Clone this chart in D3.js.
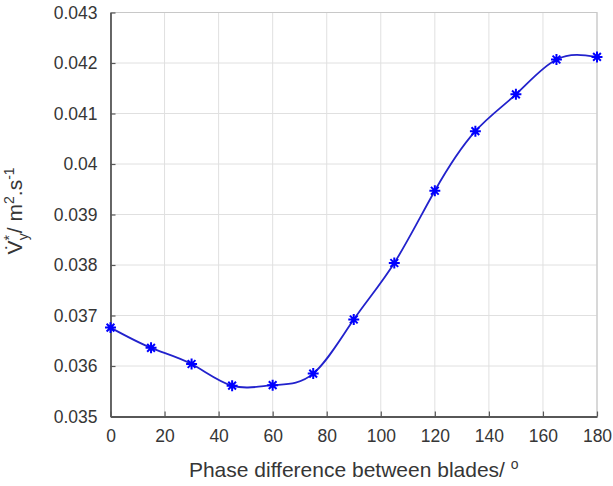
<!DOCTYPE html>
<html>
<head>
<meta charset="utf-8">
<script src="https://cdn.jsdelivr.net/npm/d3@7"></script>
<style>
  html, body { margin: 0; padding: 0; background: #fff; }
  svg { display: block; font-family: "Liberation Sans", Arial, Helvetica, sans-serif; }
</style>
</head>
<body>
<svg id="chart" width="613" height="486"></svg>
<script>
// Phase difference between the blades (degrees)
const phase = [0, 15, 30, 45, 60, 75, 90, 105, 120, 135, 150, 165, 180];
// Flow rate V*y (m^2/s)
const flow = [0.03676, 0.03636, 0.03604, 0.03561, 0.03562, 0.03585, 0.03692,
              0.03804, 0.03947, 0.04065, 0.04138, 0.04207, 0.04212];
const xTicks = [0, 20, 40, 60, 80, 100, 120, 140, 160, 180];
const yTicks = [0.035, 0.036, 0.037, 0.038, 0.039, 0.04, 0.041, 0.042, 0.043];
const xTitle = "Phase difference between blades/ ";

const plotL = 110.5, plotR = 597, plotT = 12.5, plotB = 416.5;
const svg = d3.select("#chart");

const x = d3.scaleLinear().domain([0, 180]).range([plotL, plotR]);
const y = d3.scaleLinear().domain([0.035, 0.043]).range([plotB, plotT]);

const gridColor = "#e0e0e0", axisColor = "#575757", textColor = "#363636";

// grid
const grid = svg.append("g");
grid.selectAll(".gx").data(xTicks).join("line")
  .attr("x1", d => x(d)).attr("x2", d => x(d))
  .attr("y1", plotT).attr("y2", plotB)
  .attr("stroke", gridColor).attr("stroke-width", 1);
grid.selectAll(".gy").data(yTicks).join("line")
  .attr("x1", plotL).attr("x2", plotR)
  .attr("y1", d => y(d)).attr("y2", d => y(d))
  .attr("stroke", gridColor).attr("stroke-width", 1);

// box edges (top and right)
svg.append("path")
  .attr("d", `M${plotL},${plotT}H${plotR}V${plotB}`)
  .attr("fill", "none").attr("stroke", "#c8c8c8").attr("stroke-width", 1.2);

// axes
const xAxis = d3.axisBottom(x).tickValues(xTicks).tickSizeInner(-5).tickSizeOuter(0)
  .tickPadding(13).tickFormat(d3.format("d"));
const yAxis = d3.axisLeft(y).tickValues(yTicks).tickSizeInner(-5).tickSizeOuter(0)
  .tickPadding(13).tickFormat(d => String(+d.toFixed(3)));

const gx = svg.append("g").attr("transform", `translate(0,${plotB})`).call(xAxis);
const gy = svg.append("g").attr("transform", `translate(${plotL},0)`).call(yAxis);
[gx, gy].forEach(g => {
  g.select(".domain").attr("stroke", axisColor).attr("stroke-width", 1.8);
  g.selectAll(".tick line").attr("stroke", axisColor).attr("stroke-width", 1.2);
  g.selectAll(".tick text").attr("fill", textColor)
    .style("font-size", "17.5px").style("font-family", "Liberation Sans, Arial, sans-serif");
});

// curve
const line = d3.line()
  .x((d, i) => x(phase[i]))
  .y(d => y(d))
  .curve(d3.curveNatural);
svg.append("path")
  .datum(flow)
  .attr("d", line)
  .attr("fill", "none")
  .attr("stroke", "#2222cc")
  .attr("stroke-width", 1.8);

// asterisk marker: plus and cross combined
const asterisk8 = {
  draw(ctx, size) {
    const r = Math.sqrt(size) / 2;
    const c = r * Math.SQRT1_2;
    ctx.moveTo(-r, 0); ctx.lineTo(r, 0);
    ctx.moveTo(0, -r); ctx.lineTo(0, r);
    ctx.moveTo(-c, -c); ctx.lineTo(c, c);
    ctx.moveTo(-c, c); ctx.lineTo(c, -c);
  }
};
svg.append("g").selectAll("path").data(flow).join("path")
  .attr("transform", (d, i) => `translate(${x(phase[i])},${y(d)})`)
  .attr("d", d3.symbol().type(asterisk8).size(120))
  .attr("fill", "none")
  .attr("stroke", "#0000ff")
  .attr("stroke-width", 2);

// x title
const xt = svg.append("text")
  .attr("x", (plotL + plotR) / 2).attr("y", 477)
  .attr("text-anchor", "middle")
  .attr("fill", textColor)
  .style("font-size", "21px");
xt.append("tspan").text(xTitle);
xt.append("tspan").attr("dy", -8).style("font-size", "14px").text("o");

// y title
const yt = svg.append("text")
  .attr("transform", "translate(22,211) rotate(-90)")
  .attr("text-anchor", "middle")
  .attr("fill", textColor)
  .style("font-size", "21px");
yt.append("tspan").text("V\u0307");
yt.append("tspan").attr("dy", -8).style("font-size", "14px").text("*");
yt.append("tspan").attr("dx", -5).attr("dy", 14).style("font-size", "14px").text("y");
yt.append("tspan").attr("dy", -6).text("/ m");
yt.append("tspan").attr("dy", -8).style("font-size", "14px").text("2");
yt.append("tspan").attr("dy", 8).text(".s");
yt.append("tspan").attr("dy", -8).style("font-size", "14px").text("-1");
</script>
</body>
</html>
